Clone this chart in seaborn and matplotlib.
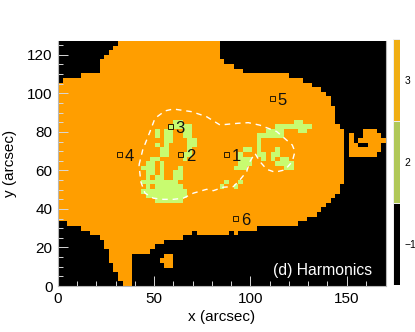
import numpy as np
import matplotlib
matplotlib.use("Agg")
import matplotlib.pyplot as plt
import seaborn as sns
from matplotlib.colors import ListedColormap

plt.rcParams['font.family'] = ['Liberation Sans', 'DejaVu Sans']

# one map cell is 2.4 arcsec
cell = 2.4
n_cols = 71
n_rows = 53

# orange disc: first row and end row per column (0-61)
disc_low = [14, 14, 13, 13, 13, 12, 12, 11, 11, 10,
            8, 5, 3, 1, 0, 0, 7, 7, 7, 7,
            8, 9, 9, 10, 10, 10, 10, 11, 11, 12,
            11, 11, 11, 11, 11, 11, 11, 12, 11, 12,
            12, 12, 12, 13, 13, 13, 13, 13, 13, 13,
            13, 13, 14, 14, 15, 15, 16, 17, 18, 19,
            20, 22]
disc_top = [44, 45, 45, 45, 45, 46, 46, 46, 46, 49,
            50, 51, 52, 53, 53, 53, 53, 53, 53, 53,
            53, 53, 53, 53, 53, 53, 53, 53, 53, 53,
            53, 53, 53, 53, 53, 49, 48, 48, 47, 47,
            46, 46, 46, 46, 46, 46, 46, 46, 46, 46,
            45, 45, 45, 44, 44, 43, 43, 42, 41, 39,
            35, 34]

# small orange pieces outside the disc
patch_col = [22, 23, 24, 63, 64, 65, 65, 66, 66, 67, 68, 69, 70]
patch_low = [5, 4, 4, 28, 28, 28, 31, 28, 31, 28, 28, 29, 31]
patch_top = [6, 7, 7, 33, 31, 30, 32, 30, 34, 34, 34, 33, 32]

# green cells, row number -> columns
green_cells = {
    35: [25, 26, 51, 52],
    34: [24, 25, 26, 27, 28, 47, 48, 49, 50, 51, 52, 53, 54],
    33: [21, 23, 24, 27, 28, 45, 46, 47, 48, 52, 53],
    32: [21, 23, 24, 27, 28, 43, 44, 45, 46, 47, 48],
    31: [23, 24, 28, 29, 43],
    30: [21, 23, 28, 29, 43],
    29: [22, 23, 28, 40, 41, 43, 47],
    28: [22, 23, 27, 28, 39, 43, 44, 46, 47],
    27: [20, 21, 27, 39, 40, 41, 44, 46, 48, 49],
    26: [19, 20, 22, 39, 40, 41, 47, 48, 49, 50],
    25: [18, 19, 20, 22, 26, 38, 39, 40, 49, 50],
    24: [19, 20, 22, 25, 26],
    23: [19, 21, 22, 25, 26],
    22: [18, 19, 20, 21, 22, 23, 24, 25, 36, 39],
    21: [19, 21, 22, 23, 24, 25, 26, 35, 38],
    20: [18, 19, 20, 21, 22, 23, 24, 25, 26, 27],
    19: [19, 20, 21, 22, 23, 24, 25, 26, 27],
    18: [21, 22, 23, 24, 25, 26],
}

# dashed contour (arcsec)
contour_x = [42.1, 44.0, 47.8, 50.4, 55.6, 59.9, 69.5, 77.2, 84.2, 93.7, 98.9, 104.9,
             113.6, 121.7, 123.1, 121.7, 117.9, 112.7, 108.4, 104.9, 102.3, 99.7, 98.0,
             94.5, 91.1, 85.9, 80.7, 77.2, 70.3, 65.1, 59.9, 54.7, 49.5, 45.2, 43.0, 42.1]
contour_y = [62.9, 70.6, 80.2, 87.1, 90.9, 91.9, 90.5, 87.9, 83.6, 84.5, 84.8, 83.5,
             80.2, 73.2, 69.8, 64.6, 60.3, 59.1, 60.6, 64.6, 68.9, 64.6, 59.4,
             55.1, 51.6, 51.3, 49.5, 50.2, 48.2, 45.6, 45.0, 45.0, 45.6, 48.2, 54.2, 62.9]

# numbered positions
point_labels = ['1', '2', '3', '4', '5', '6']
point_x = [87.3, 63.4, 58.2, 31.7, 111.2, 92.0]
point_y = [68.6, 68.6, 83.0, 68.6, 97.7, 35.3]

x_ticks = [0, 50, 100, 150]
x_minor = [10, 20, 30, 40, 60, 70, 80, 90, 110, 120, 130, 140, 160]
y_ticks = [0, 20, 40, 60, 80, 100, 120]
y_minor = [5, 10, 15, 25, 30, 35, 45, 50, 55, 65, 70, 75, 85, 90, 95, 105, 110, 115, 125]
class_labels = ['\u22121', '2', '3']

# 0 = black, 1 = green, 2 = orange
grid = np.zeros((n_rows, n_cols), dtype=int)
for c, (lo, hi) in enumerate(zip(disc_low, disc_top)):
    grid[lo:hi, c] = 2
for c, lo, hi in zip(patch_col, patch_low, patch_top):
    grid[lo:hi, c] = 2
for r, cols in green_cells.items():
    grid[r, cols] = 1

W, H = 415, 332
fig = plt.figure(figsize=(W / 100, H / 100), dpi=100)
ax = fig.add_axes([58 / W, 1 - 286 / H, 328 / W, 245 / H])
cax = fig.add_axes([392.5 / W, 1 - 285 / H, 7.5 / W, 246 / H])

sns.heatmap(grid, ax=ax, cmap=ListedColormap(['#000000', '#C8FB70', '#FF9E00']),
            vmin=0, vmax=2, cbar=False, xticklabels=False, yticklabels=False)
ax.invert_yaxis()

ax.plot(np.array(contour_x) / cell, np.array(contour_y) / cell, color='white',
        lw=1.0, dashes=(4, 3.5))
ax.plot(np.array(point_x) / cell, np.array(point_y) / cell, ls='none', marker='s', ms=3.6,
        mfc='none', mec='#2a1a00', mew=0.7)
for lab, px, py in zip(point_labels, point_x, point_y):
    ax.text(px / cell + 1.25, py / cell - 0.5, lab, fontsize=12, color='#111111',
            va='center', ha='left')

ax.set_xticks(np.array(x_ticks) / cell)
ax.set_xticklabels(x_ticks, fontsize=11)
ax.set_xticks(np.array(x_minor) / cell, minor=True)
ax.set_yticks(np.array(y_ticks) / cell)
ax.set_yticklabels(y_ticks, fontsize=11, rotation=0)
ax.set_yticks(np.array(y_minor) / cell, minor=True)
ax.tick_params(which='major', direction='in', length=7, width=0.7, color='#d8d8d8', pad=4)
ax.tick_params(which='minor', direction='in', length=3.5, width=0.7, color='#d8d8d8')
ax.set_xlabel('x (arcsec)', fontsize=11, labelpad=3)
ax.set_ylabel('y (arcsec)', fontsize=11, labelpad=7)
for side in ['left', 'right', 'bottom']:
    ax.spines[side].set_visible(True)
    ax.spines[side].set_color('#b8b8b8')
    ax.spines[side].set_linewidth(0.8)

ax.text(0.957, 0.064, '(d) Harmonics', transform=ax.transAxes, color='white', fontsize=11.3,
        ha='right', va='center')

# colour bar, duller than the map
sns.heatmap(np.array([[0], [1], [2]]), ax=cax, cmap=ListedColormap(['#000000', '#B0C858', '#F0AE14']),
            vmin=0, vmax=2, cbar=False, xticklabels=False, linewidths=0.6, linecolor='#eeeeee')
cax.invert_yaxis()
cax.yaxis.tick_right()
cax.set_yticks([0.5, 1.5, 2.5])
cax.set_yticklabels(class_labels, fontsize=7.5, rotation=0)
cax.tick_params(axis='y', length=0, pad=3)

fig.savefig('out.png', dpi=100)
